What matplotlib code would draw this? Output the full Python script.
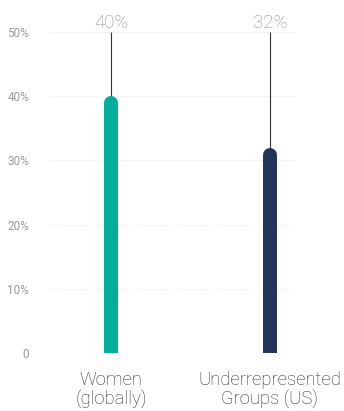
import matplotlib
matplotlib.use("Agg")
import matplotlib.pyplot as plt

categories = ["Women\n(globally)", "Underrepresented\nGroups (US)"]
values = [40, 32]
colors = ["#00ae9b", "#233659"]
y_ticks = [0, 10, 20, 30, 40, 50]
y_tick_labels = ["0", "10%", "20%", "30%", "40%", "50%"]

plt.rcParams["font.family"] = ["Roboto", "DejaVu Sans"]

W, H, DPI = 344, 411, 100
fig = plt.figure(figsize=(W / DPI, H / DPI), dpi=DPI)
ax = fig.add_axes([50 / W, 1 - 353 / H, 247 / W, 321 / H])

ax.set_ylim(0, 50)
ax.set_xlim(-0.384, 1.17)

bar_px = 14
bar_pt = bar_px * 72 / DPI
# radius of the rounded top in data units
px_per_unit = (321 / 50)
r = (bar_px / 2) / px_per_unit

for i, (v, c) in enumerate(zip(values, colors)):
    # connector from the bar top up to the top gridline
    ax.plot([i, i], [v, 50], color="#333333", lw=0.8, zorder=2,
            solid_capstyle="butt")
    # bar with rounded top; the bottom is clipped flat at the axis
    ax.plot([i, i], [-5, v - r], color=c, lw=bar_pt,
            solid_capstyle="round", zorder=3)
    ax.text(i, 50 + 9 / px_per_unit, f"{v}%", ha="center", va="center",
            fontsize=13.5, color="#8c8c8c", fontweight="light",
            clip_on=False)

ax.set_yticks(y_ticks)
ax.set_yticklabels(y_tick_labels)
ax.set_xticks(range(len(categories)))
ax.set_xticklabels(categories, fontsize=13.3, color="#2e2e2e",
                   linespacing=1.0, fontweight="light")

ax.tick_params(axis="y", length=0, pad=15, labelsize=8.5, labelcolor="#999999")
ax.tick_params(axis="x", length=0, pad=13)

ax.grid(axis="y", color="#e6e6e6", lw=0.6, linestyle=(0, (1, 1)))
ax.set_axisbelow(True)
for s in ax.spines.values():
    s.set_visible(False)

fig.savefig("out.png", dpi=DPI)
